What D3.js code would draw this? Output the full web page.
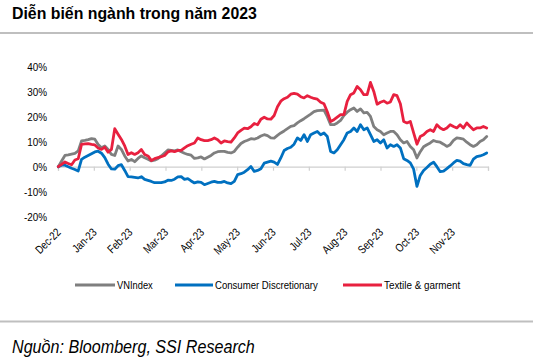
<!DOCTYPE html>
<html><head><meta charset="utf-8">
<script src="https://cdn.jsdelivr.net/npm/d3@7"></script>
<style>body{margin:0;background:#fff} svg{display:block}</style>
</head><body><svg id="c" width="533" height="362"></svg>
<script>
const title = "Diễn biến ngành trong năm 2023";
const source = "Nguồn: Bloomberg, SSI Research";
const monthLabels = ["Dec-22","Jan-23","Feb-23","Mar-23","Apr-23","May-23","Jun-23","Jul-23","Aug-23","Sep-23","Oct-23","Nov-23"];
const yTicks = [40,30,20,10,0,-10,-20];
const seriesNames = ["VNIndex","Consumer Discretionary","Textile & garment"];
const vnindex = [0,2.3,4.5,4.7,5.0,5.3,6.3,10.3,10.5,10.8,11.2,11.0,8.9,7.6,8.3,6.9,4.9,4.5,8.3,6.9,4.3,2.3,2.9,2.0,3.3,4.3,3.6,3.0,2.3,2.6,3.2,4.3,5.5,6.7,6.5,6.3,6.7,6.0,5.4,4.9,4.6,
 3.3,3.5,3.9,3.1,3.8,4.5,5.5,6.0,6.1,6.1,5.7,5.5,6.1,7.8,9.3,10.1,10.6,11.2,11.0,11.5,12.3,12.8,12.4,11.5,11.4,12.5,13.5,14.3,15.2,16.1,16.4,17.5,18.4,19.2,20.1,21.0,22.0,22.4,22.5,22.6,20.0,16.8,16.8,17.5,18.5,
 20.5,21.8,22.8,23.5,22.1,23.1,21.5,21.7,20.1,16.1,14.8,14.1,12.8,13.5,14.1,14.1,12.8,10.8,9.5,10.1,8.1,6.8,3.5,6.0,8.0,8.8,9.5,10.5,10.0,9.8,9.0,8.1,8.8,10.5,11.5,11.3,11.0,9.8,8.8,8.1,8.8,10.1,10.8,12.1];
const consumer = [0,0.6,0.6,0,-0.6,-1.1,-1.7,2.9,3.8,4.5,5.2,5.9,6.2,5.4,3.6,1.0,-0.9,-1.0,0.4,0.8,-1.5,-4.0,-4.1,-4.3,-4.5,-4.0,-5.1,-5.5,-5.9,-6.4,-6.4,-6.4,-6.1,-5.4,-5.5,-5.0,-4.1,-4.0,-5.1,-4.8,-5.7,
 -6.5,-6.1,-6.3,-7.2,-6.7,-6.2,-5.9,-6.3,-6.3,-5.9,-6.5,-6.8,-5.9,-3.2,-2.8,-2.2,-1.2,0.1,-1.9,-1.5,-0.8,1.4,1.8,2.2,1.8,0.9,3.5,6.5,7.3,7.8,9.0,11.5,10.5,12.8,10.1,12.8,13.5,14.1,12.8,13.5,12.1,6.1,5.5,6.8,8.8,
 10.8,13.5,14.1,15.5,14.1,16.8,14.8,15.5,12.8,10.1,10.8,9.5,10.8,7.5,8.8,8.1,8.8,7.5,3.2,2.5,1.5,-1.0,-7.9,-3.5,-1.5,-0.3,1.0,1.8,0.0,-2.0,-1.8,-0.8,0.3,1.5,2.5,2.2,1.2,0.8,0.5,3.0,4.0,4.3,4.8,5.5];
const textile = [0,0.9,1.9,1.3,0.8,2.7,3.2,8.9,9.1,9.2,8.9,8.7,7.5,6.9,7.8,5.8,6.9,15.2,13.0,10.9,8.3,4.9,5.6,4.9,5.6,6.9,4.9,4.3,2.5,3.2,3.6,4.0,4.5,5.9,6.3,6.0,6.5,6.5,7.5,8.4,9.0,
 9.5,11.5,10.8,10.4,10.4,10.8,11.5,10.8,9.5,10.3,10.0,9.8,11.5,13.5,14.5,15.4,15.2,16.0,17.3,16.8,19.0,19.8,19.1,19.0,20.5,24.0,26.2,27.2,27.8,29.0,29.3,29.0,28.0,27.5,28.4,27.8,27.3,27.0,25.8,25.2,22.0,18.1,18.8,19.8,20.8,
 20.8,26.1,28.8,29.5,32.1,30.8,28.8,28.8,33.7,30.1,25.0,25.8,26.3,25.4,25.9,28.8,28.4,25.2,18.1,17.5,18.1,13.5,9.0,12.1,12.8,14.1,14.8,14.1,16.8,15.5,14.8,15.5,16.8,16.1,15.5,16.8,15.5,17.5,16.1,14.8,15.5,15.5,16.1,15.5];
const colors = ["#7f7f7f","#0070c0","#e8203f"];

function hasFont(name){
  const c=document.createElement("canvas").getContext("2d");
  c.font='20px "'+name+'", monospace'; const a=c.measureText("abcdefghij ABCDEF 123").width;
  c.font='20px monospace'; const b=c.measureText("abcdefghij ABCDEF 123").width;
  return Math.abs(a-b)>0.5;
}
const narrowOK = hasFont("Liberation Sans Narrow");
const FONT = narrowOK ? "'Liberation Sans Narrow','Arial Narrow',sans-serif" : "'Liberation Sans',Arial,sans-serif";
const SX = narrowOK ? 1 : 0.82;

const svg = d3.select("#c");
const N = vnindex.length;
const x = d3.scaleLinear().domain([0, N-1]).range([58.3, 486.7]);
const xm = d3.scaleLinear().domain([0, 12]).range([58, 488]);
const y = d3.scaleLinear().domain([-20, 40]).range([216.7, 66.7]);

// fit helper: stretch text horizontally to a target width
function fitW(sel, w){ const bw = sel.node().getBBox().width; return bw>0 ? w/bw : 1; }

// title & rules
const t = svg.append("text").attr("font-family",FONT).attr("font-weight","bold").attr("font-size",16.5).attr("fill","#000").text(title);
t.attr("transform",`translate(12,19) scale(${fitW(t,245)},1)`);
svg.append("rect").attr("x",0).attr("y",32).attr("width",533).attr("height",2).attr("fill","#bfbfbf");
svg.append("rect").attr("x",0).attr("y",320.5).attr("width",533).attr("height",2).attr("fill","#bfbfbf");
const f = svg.append("text").attr("font-family",FONT).attr("font-style","italic").attr("font-size",18).attr("fill","#000").text(source);
f.attr("transform",`translate(12,353) scale(${fitW(f,243)},1)`);

// y axis labels
const ya = svg.append("g").attr("transform","translate(47,0)")
  .call(d3.axisLeft(y).tickValues(yTicks).tickFormat(d=>d+"%").tickSize(0).tickPadding(0));
ya.select(".domain").remove();
ya.selectAll("text").attr("font-family",FONT).attr("font-size",11.5).attr("fill","#000")
  .attr("transform",`scale(${SX*1.05},1)`);

// x axis (zero line + ticks)
const xa = svg.append("g").attr("transform",`translate(0,${y(0)})`)
  .call(d3.axisBottom(xm).tickValues(d3.range(0,13)).tickSize(4).tickFormat(""));
xa.select(".domain").attr("stroke","#d0d0d0").attr("stroke-width",1.2);
xa.selectAll(".tick line").attr("stroke","#d0d0d0").attr("stroke-width",1.2);

// x labels low
const xl = svg.append("g").attr("transform","translate(3,233)")
  .call(d3.axisBottom(xm).tickValues(d3.range(0,12)).tickSize(0).tickPadding(0).tickFormat(i=>monthLabels[i]));
xl.select(".domain").remove();
xl.selectAll("text").attr("font-family",FONT).attr("font-size",11.5).attr("fill","#000")
  .attr("text-anchor","end").attr("y",0).attr("dy",0).attr("transform",`rotate(-45) scale(${SX},1)`);

// lines
const line = d3.line().x((d,i)=>x(i)).y(d=>y(d)).curve(d3.curveLinear);
[vnindex, consumer, textile].forEach((s,k)=>{
  svg.append("path").datum(s).attr("d",line).attr("fill","none")
    .attr("stroke",colors[k]).attr("stroke-width",2.8).attr("stroke-linejoin","round").attr("stroke-linecap","round");
});

// legend
const legX = [75,175,343], legW=[40,38,39], legTW=[36,103,77];
seriesNames.forEach((n,k)=>{
  svg.append("line").attr("x1",legX[k]).attr("x2",legX[k]+legW[k]).attr("y1",285).attr("y2",285)
    .attr("stroke",colors[k]).attr("stroke-width",2.8);
  const lt = svg.append("text").attr("font-family",FONT).attr("font-size",11.5).attr("fill","#000").text(n);
  lt.attr("transform",`translate(${legX[k]+legW[k]+2},289) scale(${fitW(lt,legTW[k])},1)`);
});
</script></body></html>
